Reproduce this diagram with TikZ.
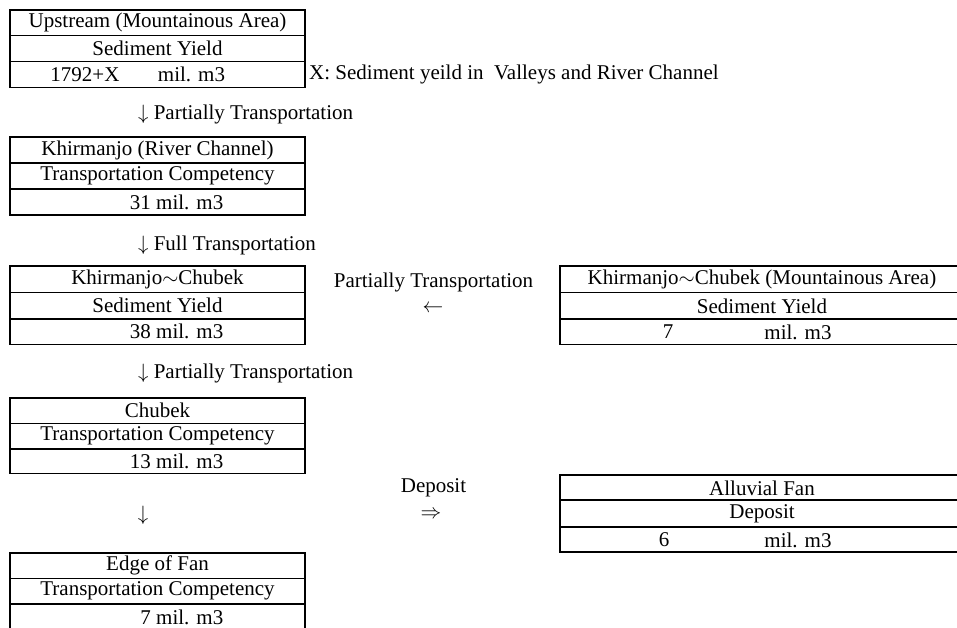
\documentclass[tikz,border=0pt]{standalone}
\usepackage{fontspec}
\setmainfont{Liberation Serif}
\newcommand\rowcell[6]{\node[cell, minimum width=#4, minimum height=#5] (#1) at (#2,#3) {#6};}
\begin{document}
\begin{tikzpicture}[x=1pt,y=-1pt,
  every node/.style={font=\fontsize{21}{24}\selectfont},
  cell/.style={draw, line width=1.8pt, inner sep=0pt, outer sep=0pt, anchor=north west},
  txt/.style={inner sep=0pt},
  lbl/.style={inner sep=0pt, anchor=west}]
\useasboundingbox (0,0) rectangle (957,628);
\clip (0,0) rectangle (957,628);
% Box 1
\rowcell{b1a}{10}{10}{295}{25.5}{Upstream (Mountainous Area)}
\rowcell{b1b}{10}{35.5}{295}{26}{Sediment Yield}
\rowcell{b1c}{10}{61.5}{295}{26}{}
\node[txt] (b1n) at (85,74.5) {1792+X};
\node[txt] (b1u) at (191.5,74.5) {mil. m3};
\node[txt, anchor=west] (note) at (309,74.5) {X: Sediment yeild in\ \ Valleys and River Channel};
\node[lbl] (l1) at (138,114) {$\downarrow$\ Partially Transportation};
% Box 2
\rowcell{b2a}{10}{137}{295}{26}{Khirmanjo (River Channel)}
\rowcell{b2b}{10}{163}{295}{26}{Transportation Competency}
\rowcell{b2c}{10}{189}{295}{26}{}
\node[txt, anchor=east] (b2n) at (223.5,202) {31 mil. m3};
\node[lbl] (l2) at (138,245) {$\downarrow$\ Full Transportation};
% Box 3
\rowcell{b3a}{10}{266}{295}{26.5}{Khirmanjo$\sim$Chubek}
\rowcell{b3b}{10}{292.5}{295}{26.5}{Sediment Yield}
\rowcell{b3c}{10}{319}{295}{25.5}{}
\node[txt, anchor=east] (b3n) at (223.5,331.5) {38 mil. m3};
% Right box 3
\rowcell{r3a}{560}{266}{410}{26.5}{}
\rowcell{r3b}{560}{292.5}{410}{26.5}{}
\rowcell{r3c}{560}{319}{410}{25.5}{}
\node[txt] (r3t) at (762,279.5) {Khirmanjo$\sim$Chubek (Mountainous Area)};
\node[txt] (r3s) at (762,306) {Sediment Yield};
\node[txt] (r3n) at (668,332) {7};
\node[txt] (r3u) at (798,332) {mil. m3};
\node[txt] (l3) at (433.5,282) {Partially Transportation};
\node[txt] (a3) at (433,309) {$\leftarrow$};
\node[lbl] (l4) at (138,373) {$\downarrow$\ Partially Transportation};
% Box 4
\rowcell{b4a}{10}{398}{295}{25.5}{Chubek}
\rowcell{b4b}{10}{423.5}{295}{25.5}{Transportation Competency}
\rowcell{b4c}{10}{449}{295}{24.5}{}
\node[txt, anchor=east] (b4n) at (223.5,461.5) {13 mil. m3};
% Right box 5
\rowcell{r5a}{560}{475}{410}{25}{}
\rowcell{r5b}{560}{500}{410}{27}{}
\rowcell{r5c}{560}{527}{410}{25}{}
\node[txt] (r5t) at (762,488) {Alluvial Fan};
\node[txt] (r5s) at (762,513.5) {Deposit};
\node[txt] (r5n) at (664,540) {6};
\node[txt] (r5u) at (798,540) {mil. m3};
\node[txt] (l5) at (433.5,488) {Deposit};
\node[txt] (a5) at (431,515) {$\Rightarrow$};
\node[txt] (a4) at (143,515) {$\downarrow$};
% Box 5
\rowcell{b5a}{10}{553}{295}{25.5}{Edge of Fan}
\rowcell{b5b}{10}{578.5}{295}{25.5}{Transportation Competency}
\rowcell{b5c}{10}{604}{295}{26}{}
\node[txt, anchor=east] (b5n) at (223.5,617) {7 mil. m3};
\end{tikzpicture}
\end{document}
